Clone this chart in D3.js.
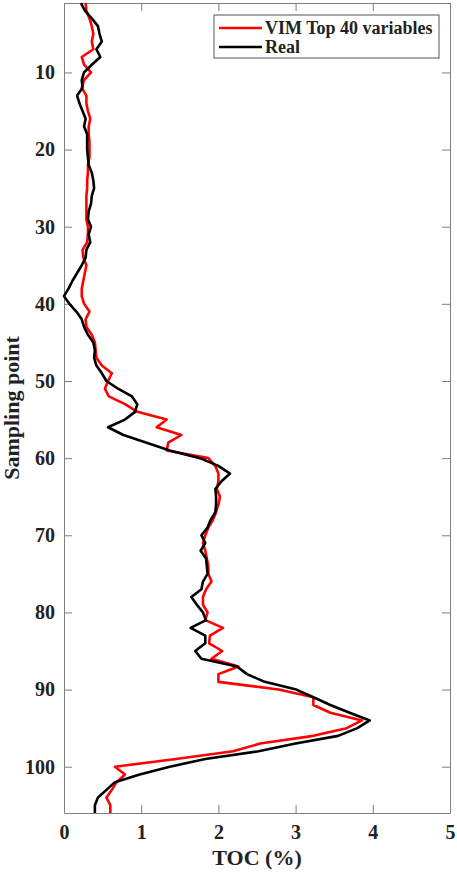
<!DOCTYPE html>
<html lang="en">
<head>
    <meta charset="UTF-8">
    <script src="https://d3js.org/d3.v7.min.js"></script>
    <style>
        body { margin: 0; background: #fff; }
        text { font-family: "Liberation Serif", "Times New Roman", serif; font-weight: bold; }
    </style>
</head>
<body>
    <svg width="457" height="873"></svg>

    <script>
        // TOC (%) per sampling point, 1..106
        let realToc = [
            0.22, 0.27, 0.36, 0.44, 0.46, 0.49, 0.42, 0.47, 0.36, 0.26,
            0.23, 0.24, 0.17, 0.20, 0.24, 0.28, 0.26, 0.30, 0.30, 0.30,
            0.31, 0.32, 0.36, 0.38, 0.39, 0.36, 0.35, 0.32, 0.31, 0.35,
            0.32, 0.34, 0.29, 0.28, 0.23, 0.17, 0.11, 0.06, 0.00, 0.07,
            0.16, 0.23, 0.26, 0.31, 0.38, 0.40, 0.39, 0.42, 0.49, 0.55,
            0.70, 0.88, 0.95, 0.92, 0.79, 0.57, 0.77, 1.07, 1.37, 1.76,
            2.00, 2.15, 2.04, 1.96, 1.97, 1.97, 1.96, 1.90, 1.86, 1.78,
            1.83, 1.77, 1.84, 1.85, 1.86, 1.80, 1.78, 1.65, 1.72, 1.80,
            1.84, 1.64, 1.83, 1.83, 1.70, 1.78, 2.24, 2.37, 2.60, 3.01,
            3.23, 3.45, 3.70, 3.96, 3.80, 3.55, 3.00, 2.52, 1.83, 1.37,
            0.98, 0.66, 0.55, 0.44, 0.40, 0.40
        ];
        let vimToc = [
            0.28, 0.29, 0.33, 0.36, 0.38, 0.36, 0.38, 0.23, 0.26, 0.35,
            0.26, 0.23, 0.29, 0.29, 0.31, 0.34, 0.32, 0.32, 0.33, 0.33,
            0.33, 0.31, 0.31, 0.30, 0.30, 0.29, 0.29, 0.29, 0.29, 0.31,
            0.31, 0.30, 0.24, 0.25, 0.29, 0.27, 0.25, 0.23, 0.23, 0.26,
            0.33, 0.28, 0.29, 0.36, 0.40, 0.41, 0.42, 0.49, 0.62, 0.57,
            0.53, 0.58, 0.79, 0.95, 1.33, 1.20, 1.52, 1.35, 1.33, 1.87,
            1.96, 2.00, 2.00, 1.98, 2.02, 2.00, 1.97, 1.93, 1.87, 1.83,
            1.80, 1.83, 1.85, 1.87, 1.87, 1.91, 1.84, 1.80, 1.80, 1.86,
            1.83, 2.06, 1.89, 1.88, 2.05, 1.91, 2.26, 2.00, 2.00, 2.78,
            3.23, 3.23, 3.45, 3.86, 3.66, 3.23, 2.54, 2.19, 1.45, 0.66,
            0.79, 0.68, 0.62, 0.55, 0.60, 0.60
        ];
        let xTicks = [0, 1, 2, 3, 4, 5];
        let yTicks = [10, 20, 30, 40, 50, 60, 70, 80, 90, 100];
        let seriesNames = ["VIM Top 40 variables", "Real"];
        let seriesColors = ["#ff0000", "#000000"];

        let svg = d3.select("svg");
        let plotLeft = 64, plotRight = 450, plotTop = 3, plotBottom = 813;

        let x = d3.scaleLinear().domain([0, 5]).range([plotLeft, plotRight]);
        let y = d3.scaleLinear().domain([1, 106]).range([plotTop, plotBottom]);

        // axes: ticks point inward on all four sides
        let axisColor = "#7f7f7f";
        function styleAxis(g) {
            g.selectAll(".domain, .tick line").attr("stroke", axisColor);
            g.selectAll("text").attr("fill", "#222").style("font-size", "20px");
        }

        svg.append("g")
            .attr("transform", "translate(0," + plotBottom + ")")
            .call(d3.axisBottom(x).tickValues(xTicks).tickFormat(d3.format("d"))
                .tickSizeInner(-8).tickSizeOuter(0).tickPadding(12))
            .call(styleAxis);
        svg.append("g")
            .attr("transform", "translate(0," + plotTop + ")")
            .call(d3.axisTop(x).tickValues(xTicks).tickSizeInner(-8).tickSizeOuter(0).tickFormat(""))
            .call(styleAxis);
        svg.append("g")
            .attr("transform", "translate(" + plotLeft + ",0)")
            .call(d3.axisLeft(y).tickValues(yTicks).tickFormat(d3.format("d"))
                .tickSizeInner(-8).tickSizeOuter(0).tickPadding(9))
            .call(styleAxis);
        svg.append("g")
            .attr("transform", "translate(" + plotRight + ",0)")
            .call(d3.axisRight(y).tickValues(yTicks).tickSizeInner(-8).tickSizeOuter(0).tickFormat(""))
            .call(styleAxis);

        // lines, plotted as TOC along x and sampling point down y
        let line = d3.line()
            .x(d => x(d))
            .y((d, i) => y(i + 1));

        [vimToc, realToc].forEach((vals, k) => {
            svg.append("path")
                .datum(vals)
                .attr("fill", "none")
                .attr("stroke", seriesColors[k])
                .attr("stroke-width", 2.6)
                .attr("stroke-linejoin", "round")
                .attr("d", line);
        });

        // axis titles
        svg.append("text")
            .attr("x", (plotLeft + plotRight) / 2)
            .attr("y", 865)
            .attr("text-anchor", "middle")
            .style("font-size", "22px")
            .attr("fill", "#222")
            .text("TOC (%)");
        svg.append("text")
            .attr("transform", "translate(19," + (plotTop + plotBottom) / 2 + ") rotate(-90)")
            .attr("text-anchor", "middle")
            .style("font-size", "22px")
            .attr("fill", "#222")
            .text("Sampling point");

        // legend
        let legend = svg.append("g");
        legend.append("rect")
            .attr("x", 214).attr("y", 15)
            .attr("width", 225).attr("height", 43)
            .attr("fill", "#fff")
            .attr("stroke", "#555");
        seriesNames.forEach((name, k) => {
            let ly = 28 + k * 19;
            legend.append("line")
                .attr("x1", 219).attr("x2", 262)
                .attr("y1", ly).attr("y2", ly)
                .attr("stroke", seriesColors[k])
                .attr("stroke-width", 2.6);
            legend.append("text")
                .attr("x", 265).attr("y", ly + 6)
                .style("font-size", "18px")
                .attr("fill", "#222")
                .text(name);
        });
    </script>
</body>
</html>
